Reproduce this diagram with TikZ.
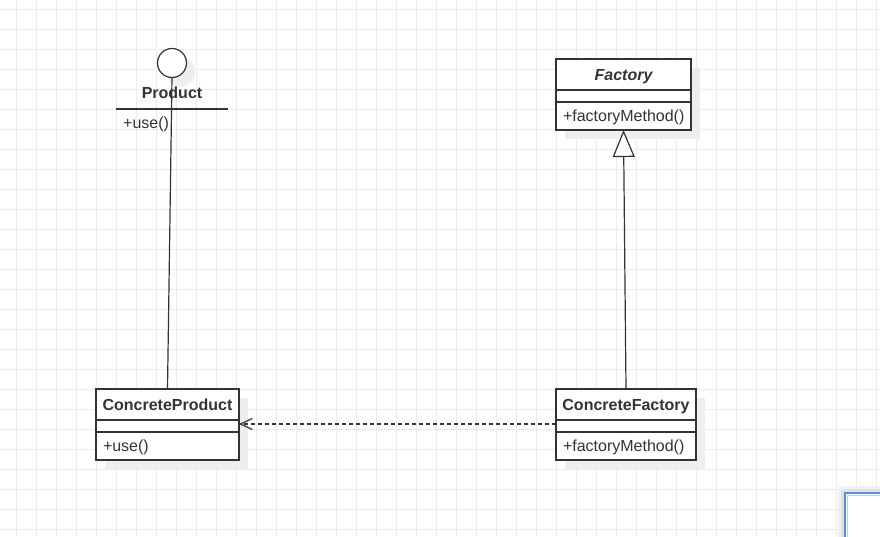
\documentclass[tikz,border=0pt]{standalone}
\usepackage{fontspec}
\setmainfont{Liberation Sans}
\usetikzlibrary{positioning,arrows.meta,shadows}
\definecolor{umlline}{HTML}{333333}
\definecolor{gridc}{HTML}{EBEBEB}
\definecolor{shadowc}{HTML}{EEEEEE}
\definecolor{selblue}{HTML}{4A90F0}
\tikzset{
  umlshadow/.style={drop shadow={shadow xshift=9pt, shadow yshift=-9pt, fill=shadowc, opacity=1}},
  classtitle/.style={draw=umlline, line width=1.2pt, fill=white, umlshadow, inner sep=0pt, outer sep=0pt,
    minimum height=31pt, text height=11.5pt, text depth=0pt,
    font=\fontsize{16}{19}\selectfont\bfseries, text=umlline},
  classgap/.style={draw=umlline, line width=1.2pt, fill=white, umlshadow, inner sep=0pt, outer sep=0pt,
    minimum height=12pt},
  classop/.style={draw=umlline, line width=1.2pt, fill=white, umlshadow, inner xsep=7pt, inner ysep=0pt,
    outer sep=0pt, minimum height=28pt, text height=11.5pt, text depth=0pt, align=left,
    font=\fontsize{16}{19}\selectfont, text=umlline},
  umledge/.style={draw=umlline, line width=1.2pt},
}
\begin{document}
\begin{tikzpicture}[x=1pt, y=-1pt]
  \clip (0,0) rectangle (880,536);
  \fill[white] (0,0) rectangle (880,536);
  \foreach \x in {16,36,...,876} \draw[gridc, line width=1pt] (\x,0) -- (\x,536);
  \foreach \y in {9,29,...,529} \draw[gridc, line width=1pt] (0,\y) -- (880,\y);

  % interface Product
  \node[circle, draw=umlline, line width=1.2pt, fill=white, umlshadow, inner sep=0pt, outer sep=0pt, minimum size=29pt] (iprod) at (172,63) {};
  \node[anchor=south, inner sep=0pt, minimum width=112pt, minimum height=32pt, text height=11.5pt, text depth=0pt, font=\fontsize{16}{19}\selectfont\bfseries, text=umlline] (iprodname) at (172,109) {Product};
  \draw[umledge] (iprodname.south west) -- (iprodname.south east);
  \node[anchor=west, inner sep=0pt, text height=11.5pt, text depth=0pt, font=\fontsize{16}{19}\selectfont, text=umlline] (iprodop) at (123,123) {+use()};

  % abstract Factory
  \node[classtitle, minimum width=135pt, anchor=north west] (fact) at (556,59) {\itshape Factory};
  \node[classgap, minimum width=135pt, below=0pt of fact] (factgap) {};
  \node[classop, text width=121pt, below=0pt of factgap] (factop) {+factoryMethod()};

  % ConcreteProduct
  \node[classtitle, minimum width=143pt, anchor=north west] (cprod) at (96,389) {ConcreteProduct};
  \node[classgap, minimum width=143pt, below=0pt of cprod] (cprodgap) {};
  \node[classop, text width=129pt, below=0pt of cprodgap] (cprodop) {+use()};

  % ConcreteFactory
  \node[classtitle, minimum width=140pt, anchor=north west] (cfact) at (556,389) {ConcreteFactory};
  \node[classgap, minimum width=140pt, below=0pt of cfact] (cfactgap) {};
  \node[classop, text width=126pt, below=0pt of cfactgap] (cfactop) {+factoryMethod()};

  % relations
  \draw[umledge] (iprod.south) -- (cprod.north);
  \draw[umledge, -{Triangle[open, fill=white, length=27pt, width=22pt]}] (cfact.north) -- (factop.south);
  \draw[umledge, dash pattern=on 4pt off 3pt, -{Straight Barb[length=12pt, width=11pt]}] ([yshift=2pt]cfactgap.west) -- ([yshift=2pt]cprodgap.east);

  % selection box in the corner
  \fill[gridc!70!white] (838,486) rectangle (900,560);
  \fill[gridc!50!gray!40] (841,489) rectangle (900,560);
  \draw[selblue, line width=2pt, fill=white] (844.5,492.5) rectangle (900,560);
  \draw[selblue!40!white, line width=1pt] (847,495) rectangle (900,560);
\end{tikzpicture}
\end{document}
